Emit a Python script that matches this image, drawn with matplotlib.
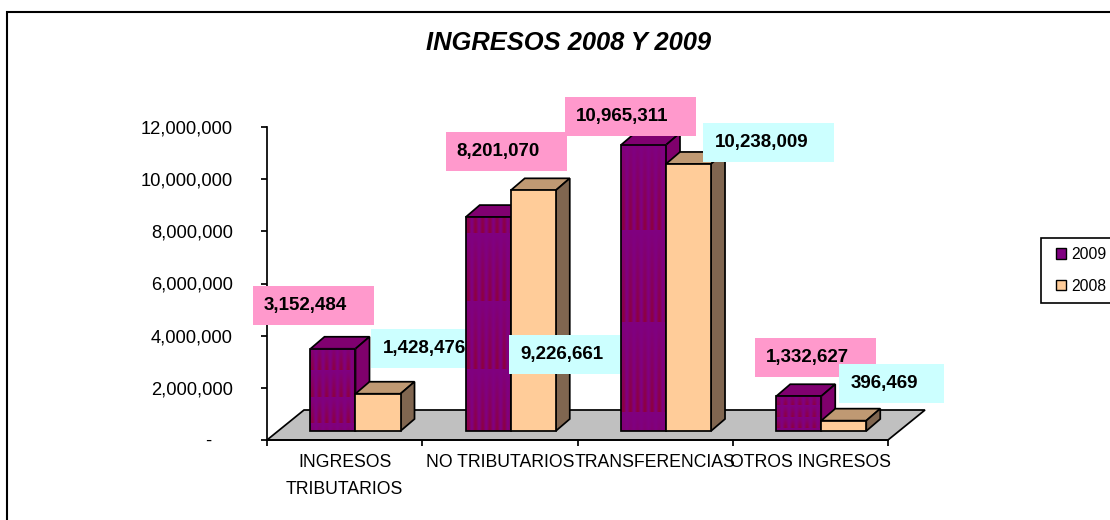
import numpy as np
import matplotlib
matplotlib.use("Agg")
import matplotlib.pyplot as plt
from matplotlib.patches import Polygon, Rectangle, Patch
from matplotlib.legend_handler import HandlerPatch
from matplotlib.transforms import IdentityTransform

plt.rcParams['font.family'] = ['Liberation Sans', 'DejaVu Sans']

categories = ['INGRESOS\nTRIBUTARIOS', 'NO TRIBUTARIOS', 'TRANSFERENCIAS', 'OTROS INGRESOS']
ingresos_2009 = [3152484, 8201070, 10965311, 1332627]
ingresos_2008 = [1428476, 9226661, 10238009, 396469]
y_ticks = [0, 2000000, 4000000, 6000000, 8000000, 10000000, 12000000]

W, H = 1110, 520
PURPLE = '#800080'
ORANGE = '#FFCC99'
PINK = '#FF99CC'
CYAN = '#CCFFFF'

# axis box in pixels of the picture
AX_L, AX_R, AX_T, AX_B = 267, 888, 127, 440
px_x = (AX_R - AX_L) / 4
px_y = (AX_B - AX_T) / 12000000

fig = plt.figure(figsize=(W / 100, H / 100), dpi=100)
ax = fig.add_axes([AX_L / W, 1 - AX_B / H, (AX_R - AX_L) / W, (AX_B - AX_T) / H])
ax.patch.set_visible(False)

EDGE = 1.25
bar_w = 0.29
bar_off = 0.28
lift = 9 / px_y
dep_x = 14 / px_x
dep_y = 12 / px_y
floor_x = 37 / px_x
floor_y = 30 / px_y


def box(x0, y0, w, h, color, z):
    # label boxes are placed in picture pixels, y from the top
    ax.add_patch(Rectangle((x0, H - y0 - h), w, h, facecolor=color, edgecolor='none',
                           transform=IdentityTransform(), clip_on=False, zorder=z))


def label(x0, y0, text, z):
    ax.text(x0, H - y0, text, fontsize=13.5, fontweight='bold', color='black', ha='left',
            va='center', transform=IdentityTransform(), clip_on=False, zorder=z)


def faces(x0, val, top_c, side_c, z):
    x1 = x0 + bar_w
    y0 = lift
    y1 = lift + val
    ax.add_patch(Polygon([(x0, y1), (x1, y1), (x1 + dep_x, y1 + dep_y), (x0 + dep_x, y1 + dep_y)],
                         closed=True, facecolor=top_c, edgecolor='black', linewidth=EDGE,
                         zorder=z, clip_on=False))
    ax.add_patch(Polygon([(x1, y0), (x1 + dep_x, y0 + dep_y), (x1 + dep_x, y1 + dep_y), (x1, y1)],
                         closed=True, facecolor=side_c, edgecolor='black', linewidth=EDGE,
                         zorder=z, clip_on=False))


def texture(val, first):
    # fill effect of the purple bars: streaks that get stronger down each band
    rows = max(int(val * px_y), 2)
    cols = 46
    period = 0.315 * rows
    fade = ((np.arange(rows) - first) / period) % 1
    streak = 0.5 + 0.5 * np.sin(2 * np.pi * np.arange(cols) / 7.2)
    amount = np.outer(fade, streak)[:, :, None]
    start = np.array([128, 0, 128]) / 255
    end = np.array([142, 0, 62]) / 255
    return start + (end - start) * amount


def swatch(legend, orig_handle, xdescent, ydescent, width, height, fontsize):
    # narrow swatch at the right end of the handle box, sizes in points
    return Rectangle((width - 7.2 - xdescent, -ydescent), 7.2, height)


# floor
ax.add_patch(Polygon([(0, 0), (4, 0), (4 + floor_x, floor_y), (floor_x, floor_y)], closed=True,
                     facecolor='#C0C0C0', edgecolor='black', linewidth=EDGE, zorder=1, clip_on=False))

# label boxes in pixels: x, y, width of the 2009 box, then the same for the 2008 box
box_2009 = [(253, 286, 121), (446, 132, 121), (565, 97, 131), (755, 338, 121)]
box_2008 = [(371, 329, 121), (509, 335, 121), (703, 123, 131), (839, 364, 105)]
box_h = 39
# pixels from the bar top to the first band edge of the fill
band_first = [22, 16, 86, 9]

for i in range(len(categories)):
    z = 2 + i * 3
    x9 = i + bar_off
    x8 = x9 + bar_w
    val9 = ingresos_2009[i]
    val8 = ingresos_2008[i]

    faces(x9, val9, '#800070', '#80006C', z)
    ax.bar(x9, val9, bar_w, bottom=lift, align='edge', color=PURPLE, zorder=z)
    ax.imshow(texture(val9, band_first[i]), extent=(x9, x9 + bar_w, lift, lift + val9), aspect='auto',
              origin='upper', interpolation='nearest', zorder=z)
    ax.bar(x9, val9, bar_w, bottom=lift, align='edge', fill=False, edgecolor='black',
           linewidth=EDGE, zorder=z)

    faces(x8, val8, '#BF9973', '#806650', z)
    ax.bar(x8, val8, bar_w, bottom=lift, align='edge', color=ORANGE, edgecolor='black',
           linewidth=EDGE, zorder=z)

    bx, by, bw = box_2009[i]
    box(bx, by, bw, box_h, PINK, z + 1)
    label(bx + 10.5, by + box_h / 2, f'{val9:,}', z + 1)
    bx, by, bw = box_2008[i]
    box(bx, by, bw, box_h, CYAN, z + 1)
    label(bx + 11.5, by + box_h / 2, f'{val8:,}', z + 1)

ax.set_xlim(0, 4)
ax.set_ylim(0, 12000000)

for s in ['top', 'right']:
    ax.spines[s].set_visible(False)
for s in ['left', 'bottom']:
    ax.spines[s].set_linewidth(EDGE)
    ax.spines[s].set_zorder(1.5)

ax.set_yticks(y_ticks)
ax.set_yticklabels([f'{v:,}' if v else '-    ' for v in y_ticks], fontsize=13.2)
ax.tick_params(axis='y', length=4, width=EDGE, pad=20.7)
ax.set_xticks(range(5))
ax.set_xticklabels([])
ax.tick_params(axis='x', length=4, width=EDGE)
for i, c in enumerate(categories):
    ax.text(i + 0.5, -0.046, c, transform=ax.get_xaxis_transform(), fontsize=12.7, ha='center',
            va='top', linespacing=1.72, clip_on=False)

fig.text(568.5 / W, 1 - 43 / H, 'INGRESOS 2008 Y 2009', fontsize=18.4, fontweight='bold',
         fontstyle='italic', ha='center', va='center')

# outer chart frame, it runs off the picture on the right and at the bottom
fig.add_artist(Rectangle((7 / W, -0.05), 1.1, 1.05 - 12 / H, transform=fig.transFigure,
                         facecolor='none', edgecolor='black', linewidth=1.5))

handles = [Patch(facecolor=PURPLE, edgecolor='black', linewidth=1),
           Patch(facecolor=ORANGE, edgecolor='black', linewidth=1)]
leg = ax.legend(handles, ['2009', '2008'], loc='lower left', bbox_to_anchor=(1041, H - 303),
                bbox_transform=IdentityTransform(), borderaxespad=0, fontsize=11.3, fancybox=False,
                framealpha=1, edgecolor='black', handlelength=1.02, handleheight=0.62, handletextpad=0.32,
                labelspacing=1.05, borderpad=0.6,
                handler_map={Patch: HandlerPatch(patch_func=swatch)})
leg.get_frame().set_linewidth(1.2)
leg.set_zorder(50)

fig.savefig('out.png', dpi=100)
